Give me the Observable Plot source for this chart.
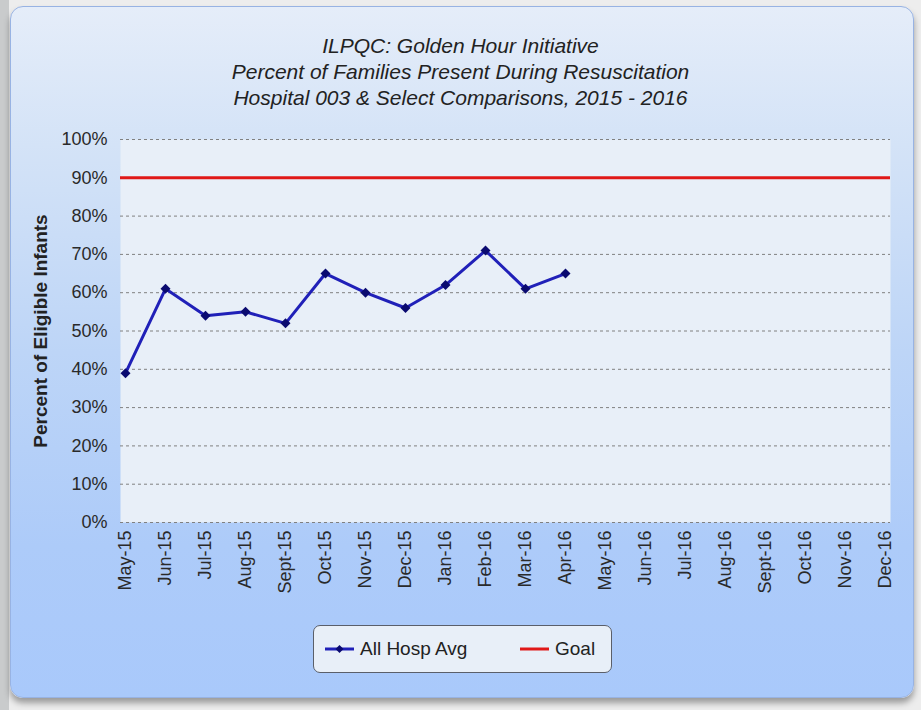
<!DOCTYPE html>
<html>
<head>
<meta charset="utf-8">
<script src="https://cdn.jsdelivr.net/npm/d3@7"></script>
<script src="https://cdn.jsdelivr.net/npm/@observablehq/plot@0.6"></script>
<style>
  html, body { margin: 0; padding: 0; }
  body { width: 921px; height: 710px; background: #ededed; position: relative; overflow: hidden; font-family: "Liberation Sans", Arial, sans-serif; }
  #strip { position: absolute; left: 0; top: 0; width: 9px; height: 710px; background: #c9cbcc; }
  #panel { position: absolute; left: 10px; top: 6px; width: 902px; height: 690px; border-radius: 13px; border: 1px solid #98b3e3;
    background: linear-gradient(to bottom, #e5edf9 0%, #d4e3f7 20%, #bdd5f7 50%, #adcbf9 78%, #a9c9fb 100%);
    box-shadow: 0 5px 6px rgba(0,0,0,0.35); }
  #title { position: absolute; left: 0; top: 33px; width: 921px; text-align: center; font-style: italic; font-size: 21px; line-height: 26px; color: #222; }
  #chart { position: absolute; left: 0; top: 110px; }
  #legend { position: absolute; left: 313px; top: 625px; width: 297px; height: 46px; border: 1px solid #5a5f6a; border-radius: 7px; background: #e8eff8;
    font-size: 19px; color: #222; }
  .item { position: absolute; top: 0; height: 46px; display: flex; align-items: center; }
  .item svg { margin-right: 6px; }
</style>
</head>
<body>
<div id="strip"></div>
<div id="panel"></div>
<div id="title">ILPQC: Golden Hour Initiative<br>Percent of Families Present During Resuscitation<br>Hospital 003 &amp; Select Comparisons, 2015 - 2016</div>
<div id="chart"></div>
<div id="legend">
  <div class="item" style="left:11px"><svg width="29" height="12"><line x1="0" y1="6" x2="29" y2="6" stroke="#2020b8" stroke-width="3"/><path d="M14.5,2 L18.5,6 L14.5,10 L10.5,6 Z" fill="#0a0a70"/></svg>All Hosp Avg</div>
  <div class="item" style="left:206px"><svg width="29" height="12"><line x1="0" y1="6" x2="29" y2="6" stroke="#e01818" stroke-width="3"/></svg>Goal</div>
</div>
<script>
const months = ["May-15","Jun-15","Jul-15","Aug-15","Sept-15","Oct-15","Nov-15","Dec-15","Jan-16","Feb-16","Mar-16","Apr-16","May-16","Jun-16","Jul-16","Aug-16","Sept-16","Oct-16","Nov-16","Dec-16"];
const allHospAvg = [39, 61, 54, 55, 52, 65, 60, 56, 62, 71, 61, 65];
const goal = 90;
const yTicks = [0, 10, 20, 30, 40, 50, 60, 70, 80, 90, 100];
const yLabel = "Percent of Eligible Infants";

const series = allHospAvg.map((v, i) => ({month: months[i], value: v}));

const chart = Plot.plot({
  width: 921,
  height: 500,
  marginLeft: 120,
  marginRight: 31,
  marginTop: 29,
  marginBottom: 88,
  style: {background: "transparent", fontFamily: "Liberation Sans, Arial, sans-serif", fontSize: "18px", color: "#333"},
  x: {type: "point", domain: months, padding: 0},
  y: {domain: [0, 100]},
  marks: [
    Plot.frame({fill: "#e8eff8", stroke: null}),
    Plot.ruleY(yTicks.filter(d => d !== goal), {stroke: "#808080", strokeWidth: 1, strokeDasharray: "3,3", strokeOpacity: 1}),
    Plot.axisY(yTicks, {tickSize: 0, tickPadding: 13, tickFormat: d => d + "%", fontSize: 18, fill: "#2a2a2a",
      label: yLabel, labelArrow: "none", labelAnchor: "center", labelOffset: 87}),
    Plot.axisX(months, {tickSize: 0, tickPadding: 8, tickRotate: -90, fontSize: 18, fill: "#2a2a2a", label: null}),
    Plot.ruleY([goal], {stroke: "#e01818", strokeWidth: 3}),
    Plot.line(series, {x: "month", y: "value", stroke: "#2020b8", strokeWidth: 3}),
    Plot.dot(series, {x: "month", y: "value", symbol: "diamond2", r: 4.5, fill: "#0a0a70", stroke: "none"})
  ]
});
d3.select(chart).selectAll("[aria-label='y-axis label'] text")
  .text(yLabel).style("font-weight", "bold").style("font-size", "19px").attr("fill", "#222");
document.getElementById("chart").appendChild(chart);
</script>
</body>
</html>
